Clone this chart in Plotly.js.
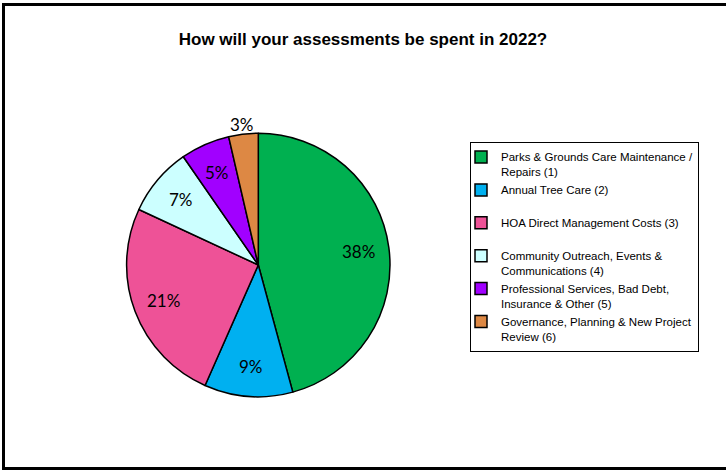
<!DOCTYPE html>
<html>
<head>
<meta charset="utf-8">
<script src="https://cdn.plot.ly/plotly-3.0.1.min.js"></script>
<style>
html,body{margin:0;padding:0;background:#fff;}
#chart{width:726px;height:472px;}
</style>
</head>
<body>
<div id="chart"></div>
<script>
// ---- data ----
const categories = [
  "Parks & Grounds Care Maintenance /<br>Repairs (1)",
  "Annual Tree Care (2)<br>\u00a0",
  "HOA Direct Management Costs (3)<br>\u00a0",
  "Community Outreach, Events &<br>Communications (4)",
  "Professional Services, Bad Debt,<br>Insurance & Other (5)",
  "Governance, Planning & New Project<br>Review (6)"
];
const values = [38, 9, 21, 7, 5, 3];
const colors = ["#00B050", "#00B0F0", "#EE5297", "#CCFFFF", "#A100FF", "#DD8844"];
const labelOutside = [false, false, false, false, false, true];
const chartTitle = "How will your assessments be spent in 2022?";

const W = 726, H = 472;
const cx = 258.3, cy = 265, R = 131.7;

const trace = {
  type: "pie",
  labels: categories,
  values: values,
  sort: false,
  direction: "clockwise",
  rotation: 0,
  marker: { colors: colors, line: { color: "#000000", width: 1.5 } },
  textinfo: "none",
  hoverinfo: "label+value",
  domain: {
    x: [(cx - R) / W, (cx + R) / W],
    y: [(H - cy - R) / H, (H - cy + R) / H]
  }
};

// data labels: placed along each slice's mid-angle (computed from the values)
const total = values.reduce((a, b) => a + b, 0);
let cum = 0;
const annotations = values.map((v, i) => {
  const mid = (cum + v / 2) / total * 2 * Math.PI;
  cum += v;
  const r = labelOutside[i] ? R + 10 : R * 0.77;
  const px = cx + r * Math.sin(mid);
  const py = cy - r * Math.cos(mid);
  return {
    text: v + "%",
    xref: "paper", yref: "paper",
    x: px / W, y: (H - py) / H,
    xanchor: "center", yanchor: "middle",
    showarrow: false,
    font: { family: "Lato, 'Open Sans', sans-serif", size: 17, color: "#000000" }
  };
});

const layout = {
  width: W,
  height: H,
  margin: { l: 0, r: 0, t: 0, b: 0 },
  paper_bgcolor: "#ffffff",
  plot_bgcolor: "#ffffff",
  font: { family: "Arial, 'Liberation Sans', sans-serif", color: "#000000" },
  title: {
    text: "<b>" + chartTitle + "</b>",
    font: { family: "Arial, 'Liberation Sans', sans-serif", size: 17, color: "#000000" },
    x: 363 / W,
    xanchor: "center",
    xref: "paper",
    y: 1 - 39 / H,
    yanchor: "middle",
    yref: "container"
  },
  showlegend: true,
  legend: {
    x: 470 / W,
    xanchor: "left",
    y: 1 - 142 / H,
    yanchor: "top",
    bgcolor: "#ffffff",
    bordercolor: "#000000",
    borderwidth: 1,
    valign: "top",
    indentation: -10,
    font: { family: "Arial, 'Liberation Sans', sans-serif", size: 11.5, color: "#000000" }
  },
  annotations: annotations,
  shapes: [{
    type: "rect",
    xref: "paper", yref: "paper",
    x0: 3.5 / W, x1: 1.05,
    y0: (H - 468.5) / H, y1: 1 - 4.5 / H,
    line: { color: "#000000", width: 3 },
    fillcolor: "rgba(0,0,0,0)"
  }]
};

Plotly.newPlot("chart", [trace], layout, { displayModeBar: false, staticPlot: true });
</script>
</body>
</html>
